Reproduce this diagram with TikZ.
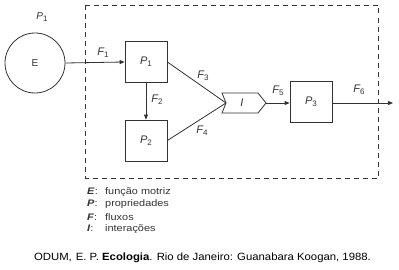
\documentclass[tikz,border=0pt]{standalone}
\usepackage{fontspec}
\setmainfont{Liberation Sans}
\newfontfamily\legfont{Liberation Sans}[FakeStretch=1.15]
\newfontfamily\citfont{Liberation Sans}[FakeStretch=1.08]
\usetikzlibrary{arrows.meta}
\definecolor{ln}{HTML}{333333}
\newcommand\sbs[1]{\raisebox{-0.4ex}{\fontsize{8}{9}\selectfont\upshape #1}}
\newcommand\legkey[1]{\makebox[18pt][l]{\textbf{\textit{#1}}:}}
\tikzset{
  every node/.style={font=\fontsize{10}{12}\selectfont, text=ln},
  boxnode/.style={draw=ln, line width=0.8pt, minimum width=42pt, minimum height=41pt, inner sep=0pt, font=\fontsize{11}{12}\selectfont\itshape},
  lab/.style={inner sep=0pt, font=\fontsize{11}{12}\selectfont\itshape},
  conn/.style={draw=ln, line width=0.8pt},
  arr/.style={conn, -{Triangle[length=5pt,width=4pt]}},
  leg/.style={anchor=west, inner sep=0pt, font=\fontsize{9.5}{11}\selectfont\legfont}
}
\begin{document}
\begin{tikzpicture}[x=1pt,y=-1pt]
\useasboundingbox (0,0) rectangle (399,270);
% dashed boundary
\draw[ln, line width=0.9pt, dash pattern=on 5pt off 4pt] (85.5,5) rectangle (378,178);
% circle E
\node[circle, draw=ln, line width=0.8pt, minimum size=60pt, inner sep=0pt] (E) at (35,63) {E};
\node[lab, font=\fontsize{10}{12}\selectfont\itshape] (pE) at (42,17) {P\sbs{1}};
% boxes
\node[boxnode] (P1) at (146,62) {P\sbs{1}};
\node[boxnode] (P2) at (146,140.5) {P\sbs{2}};
\node[boxnode] (P3) at (311,102) {P\sbs{3}};
% interaction shape
\coordinate (apex) at (226,103);
\draw[conn, line join=miter] (222,93) -- (258,93) -- (266,103) -- (258,113) -- (222,113) -- (apex) -- cycle;
\coordinate (Iout) at (266,103);
\node[lab] (I) at (242,103) {I};
\coordinate (out) at (393,103);
% connectors
\draw[arr] (E.east) -- (P1.west);
\draw[arr] (P1.south) -- (P2.north);
\draw[conn] (P1.east) -- (apex);
\draw[conn] (P2.east) -- (apex);
\draw[arr] (Iout) -- (P3.west |- Iout);
\draw[arr] (P3.east |- Iout) -- (out);
% flow labels
\node[lab] (f1) at (103,53) {F\sbs{1}};
\node[lab] (f2) at (157,100) {F\sbs{2}};
\node[lab] (f3) at (203,76) {F\sbs{3}};
\node[lab] (f4) at (202,131) {F\sbs{4}};
\node[lab] (f5) at (278,91) {F\sbs{5}};
\node[lab] (f6) at (359,90) {F\sbs{6}};
% legend
\node[leg] (l1) at (87,192) {\legkey{E}função motriz};
\node[leg] (l2) at (87,204.5) {\legkey{P}propriedades};
\node[leg] (l3) at (87,217) {\legkey{F}fluxos};
\node[leg] (l4) at (87,229.5) {\legkey{I}interações};
% citation
\node[inner sep=0pt, font=\fontsize{10.5}{12}\selectfont\citfont, text=black] (cit) at (202.5,258) {ODUM,\hspace{4pt}E. P. \textbf{Ecologia}. Rio de Janeiro: Guanabara Koogan, 1988.};
\end{tikzpicture}
\end{document}
